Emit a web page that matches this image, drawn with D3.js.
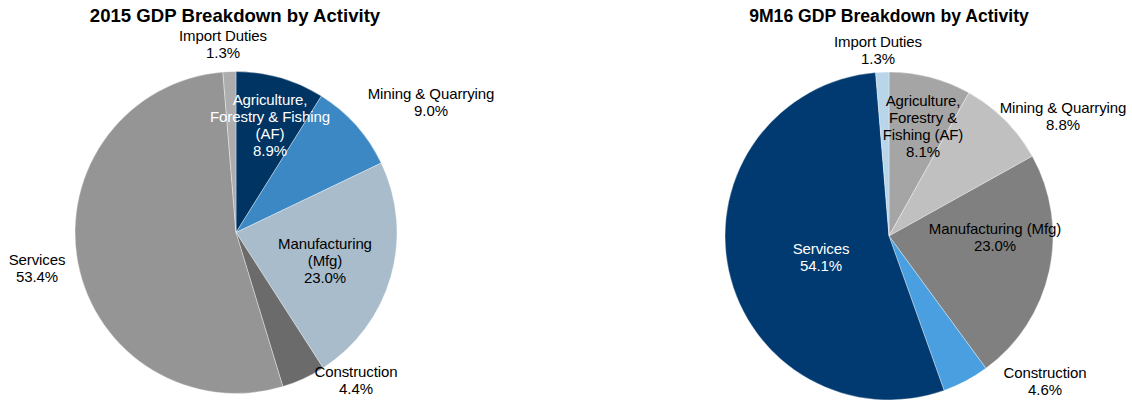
<!DOCTYPE html>
<html>
<head>
<meta charset="utf-8">
<script src="https://cdn.jsdelivr.net/npm/d3@7"></script>
<style>
  html, body { margin: 0; padding: 0; background: #fff; }
  svg { display: block; font-family: "Liberation Sans", Arial, sans-serif; }
</style>
</head>
<body>
<svg id="chart" width="1132" height="403"></svg>
<script>
// Sectors, in clockwise order starting from 12 o'clock
const categories = [
  ["Agriculture,", "Forestry & Fishing", "(AF)"],
  ["Mining & Quarrying"],
  ["Manufacturing", "(Mfg)"],
  ["Construction"],
  ["Services"],
  ["Import Duties"]
];
const categories9M16 = [
  ["Agriculture,", "Forestry &", "Fishing (AF)"],
  ["Mining & Quarrying"],
  ["Manufacturing (Mfg)"],
  ["Construction"],
  ["Services"],
  ["Import Duties"]
];

// Share of GDP (%)
const values2015 = [8.9, 9.0, 23.0, 4.4, 53.4, 1.3];
const values9M16 = [8.1, 8.8, 23.0, 4.6, 54.1, 1.3];

const titles = ["2015 GDP Breakdown by Activity", "9M16 GDP Breakdown by Activity"];

// Slice fills
const colors2015 = ["#003462", "#3b88c4", "#a8bccb", "#6b6b6b", "#959595", "#adadad"];
const colors9M16 = ["#a5a5a5", "#c0c0c0", "#808080", "#4a9fe0", "#003a70", "#b9d5ea"];

// Label text colour per slice
const ink2015 = ["#fff", "#000", "#000", "#000", "#000", "#000"];
const ink9M16 = ["#000", "#000", "#000", "#000", "#fff", "#000"];

// Label block centres, relative to each pie's centre
const labelPos2015 = [[34, -107], [195, -130], [89, 28], [120, 148], [-199, 36], [-13, -188]];
const labelPos9M16 = [[34, -110], [174, -120], [106, 1], [156, 145], [-68, 21], [-11, -186]];

const svg = d3.select("#chart");

const pies = [
  { title: titles[0], names: categories, values: values2015, colors: colors2015, ink: ink2015, labels: labelPos2015, cx: 236, cy: 232.5, r: 161, titleX: 235, titleSize: 18.6 },
  { title: titles[1], names: categories9M16, values: values9M16, colors: colors9M16, ink: ink9M16, labels: labelPos9M16, cx: 889, cy: 236, r: 164, titleX: 889, titleSize: 17.6 }
];

const lineH = 17;

pies.forEach(p => {
  const rows = p.values.map((v, i) => ({ v, name: p.names[i], color: p.colors[i], ink: p.ink[i], pos: p.labels[i] }));
  const pie = d3.pie().sort(null).value(d => d.v);
  const arc = d3.arc().innerRadius(0).outerRadius(p.r);

  const g = svg.append("g").attr("transform", `translate(${p.cx},${p.cy})`);
  g.selectAll("path")
    .data(pie(rows))
    .join("path")
    .attr("d", arc)
    .attr("fill", d => d.data.color)
    .attr("stroke", "#ffffff")
    .attr("stroke-opacity", 0.6)
    .attr("stroke-width", 0.6);

  // Labels: name lines followed by the value line
  const lbl = g.selectAll("text.lbl")
    .data(rows)
    .join("text")
    .attr("class", "lbl")
    .attr("text-anchor", "middle")
    .attr("font-size", 15)
    .attr("letter-spacing", -0.1)
    .attr("fill", d => d.ink);

  lbl.each(function(d) {
    const lines = d.name.concat([d3.format(".1f")(d.v) + "%"]);
    const top = d.pos[1] - (lines.length - 1) * lineH / 2 + 5;
    d3.select(this).selectAll("tspan")
      .data(lines)
      .join("tspan")
      .attr("x", d.pos[0])
      .attr("y", (t, k) => top + k * lineH)
      .text(t => t);
  });

  svg.append("text")
    .attr("x", p.titleX)
    .attr("y", 22)
    .attr("text-anchor", "middle")
    .attr("font-size", p.titleSize)
    .attr("font-weight", "bold")
    .attr("fill", "#000")
    .text(p.title);
});
</script>
</body>
</html>
